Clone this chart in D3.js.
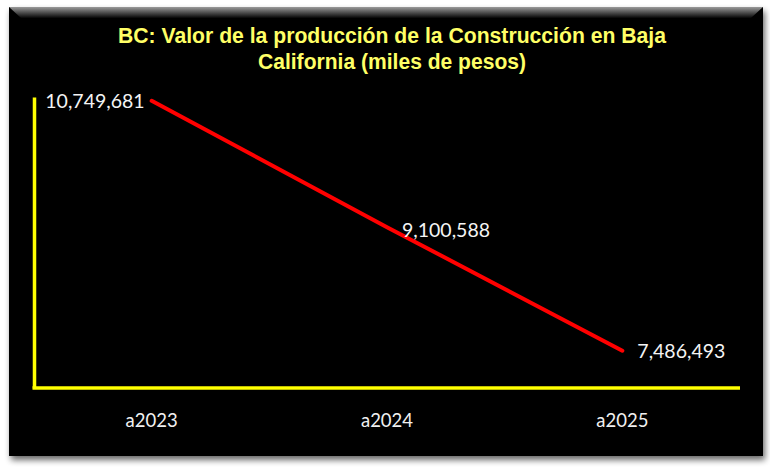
<!DOCTYPE html>
<html><head><meta charset="utf-8">
<script src="https://cdn.jsdelivr.net/npm/d3@7"></script>
<style>body{margin:0;background:#fff;}svg{display:block;}</style>
</head><body>
<svg id="c" width="770" height="470"></svg>
<script>
const categories = ["a2023", "a2024", "a2025"];
const values = [10749681, 9100588, 7486493];
const valueLabels = ["10,749,681", "9,100,588", "7,486,493"];
const titleLines = ["BC: Valor de la producción de la Construcción en Baja", "California (miles de pesos)"];

const svg = d3.select("#c");
const defs = svg.append("defs");
const f = defs.append("filter").attr("id","sh").attr("x","-5%").attr("y","-5%").attr("width","110%").attr("height","115%");
f.append("feGaussianBlur").attr("in","SourceAlpha").attr("stdDeviation",3);
f.append("feOffset").attr("dx",2).attr("dy",4).attr("result","o");
f.append("feComponentTransfer").append("feFuncA").attr("type","linear").attr("slope",0.6);
const m = f.append("feMerge"); m.append("feMergeNode"); m.append("feMergeNode").attr("in","SourceGraphic");
const g1 = defs.append("linearGradient").attr("id","bev").attr("x1",0).attr("y1",0).attr("x2",0).attr("y2",1);
g1.append("stop").attr("offset","0").attr("stop-color","#9a9a9a");
g1.append("stop").attr("offset","1").attr("stop-color","#050505");

// panel
svg.append("rect").attr("x",9).attr("y",7).attr("width",754).attr("height",449).attr("fill","#050505").attr("filter","url(#sh)");
svg.append("path").attr("d","M9,7 L763,7 L751,18 L21,18 Z").attr("fill","url(#bev)");

const left = 34, right = 740, bottom = 388;
const x = d3.scaleBand().domain(categories).range([left, right]);
const y = d3.scaleLinear().domain([7000000, 10800000]).range([bottom, 97]);

// title
const titleWidths = [548, 268];
svg.append("g").selectAll("text").data(titleLines).join("text")
  .attr("x", 392).attr("y", (d,i)=>43 + i*26)
  .attr("text-anchor","middle")
  .attr("font-family","'Liberation Sans Narrow','Arial Narrow','Liberation Sans',sans-serif")
  .attr("font-weight","bold").attr("font-size",22.5)
  .attr("textLength",(d,i)=>titleWidths[i]).attr("lengthAdjust","spacingAndGlyphs")
  .attr("fill","#ffff66").text(d=>d);

// axes
const yAxis = svg.append("g").attr("transform",`translate(${left},0)`)
  .call(d3.axisLeft(y).tickValues([]).tickSizeOuter(0));
yAxis.select(".domain").attr("stroke","#ffff00").attr("stroke-width",3.5);
const xAxis = svg.append("g").attr("transform",`translate(0,${bottom})`)
  .call(d3.axisBottom(x).tickSize(0).tickPadding(26));
xAxis.select(".domain").attr("stroke","#ffff00").attr("stroke-width",3.5).attr("d",`M${left-1.5},0H${right}`);
xAxis.selectAll("text").attr("fill","#f0f0f0").attr("font-family","Lato, 'Open Sans', sans-serif").attr("font-size",18.5);

// line
const pts = categories.map((c,i)=>({c, v:values[i], l:valueLabels[i]}));
const line = d3.line().x(d=>x(d.c)+x.bandwidth()/2).y(d=>y(d.v));
svg.append("path").datum(pts).attr("d",line).attr("fill","none").attr("stroke","#ff0000").attr("stroke-width",4).attr("stroke-linecap","round");

// labels
svg.append("g").selectAll("text").data(pts).join("text")
  .attr("x",(d,i)=> x(d.c)+x.bandwidth()/2 + (i===0 ? -7 : 15))
  .attr("y",(d,i)=> y(d.v) + (i===1 ? 3 : 0))
  .attr("dy","0.35em")
  .attr("text-anchor",(d,i)=> i===0 ? "end" : "start")
  .attr("fill","#f4f4f4").attr("font-family","Lato, 'Open Sans', sans-serif").attr("font-size",19.5)
  .text(d=>d.l);
</script>
</body></html>
